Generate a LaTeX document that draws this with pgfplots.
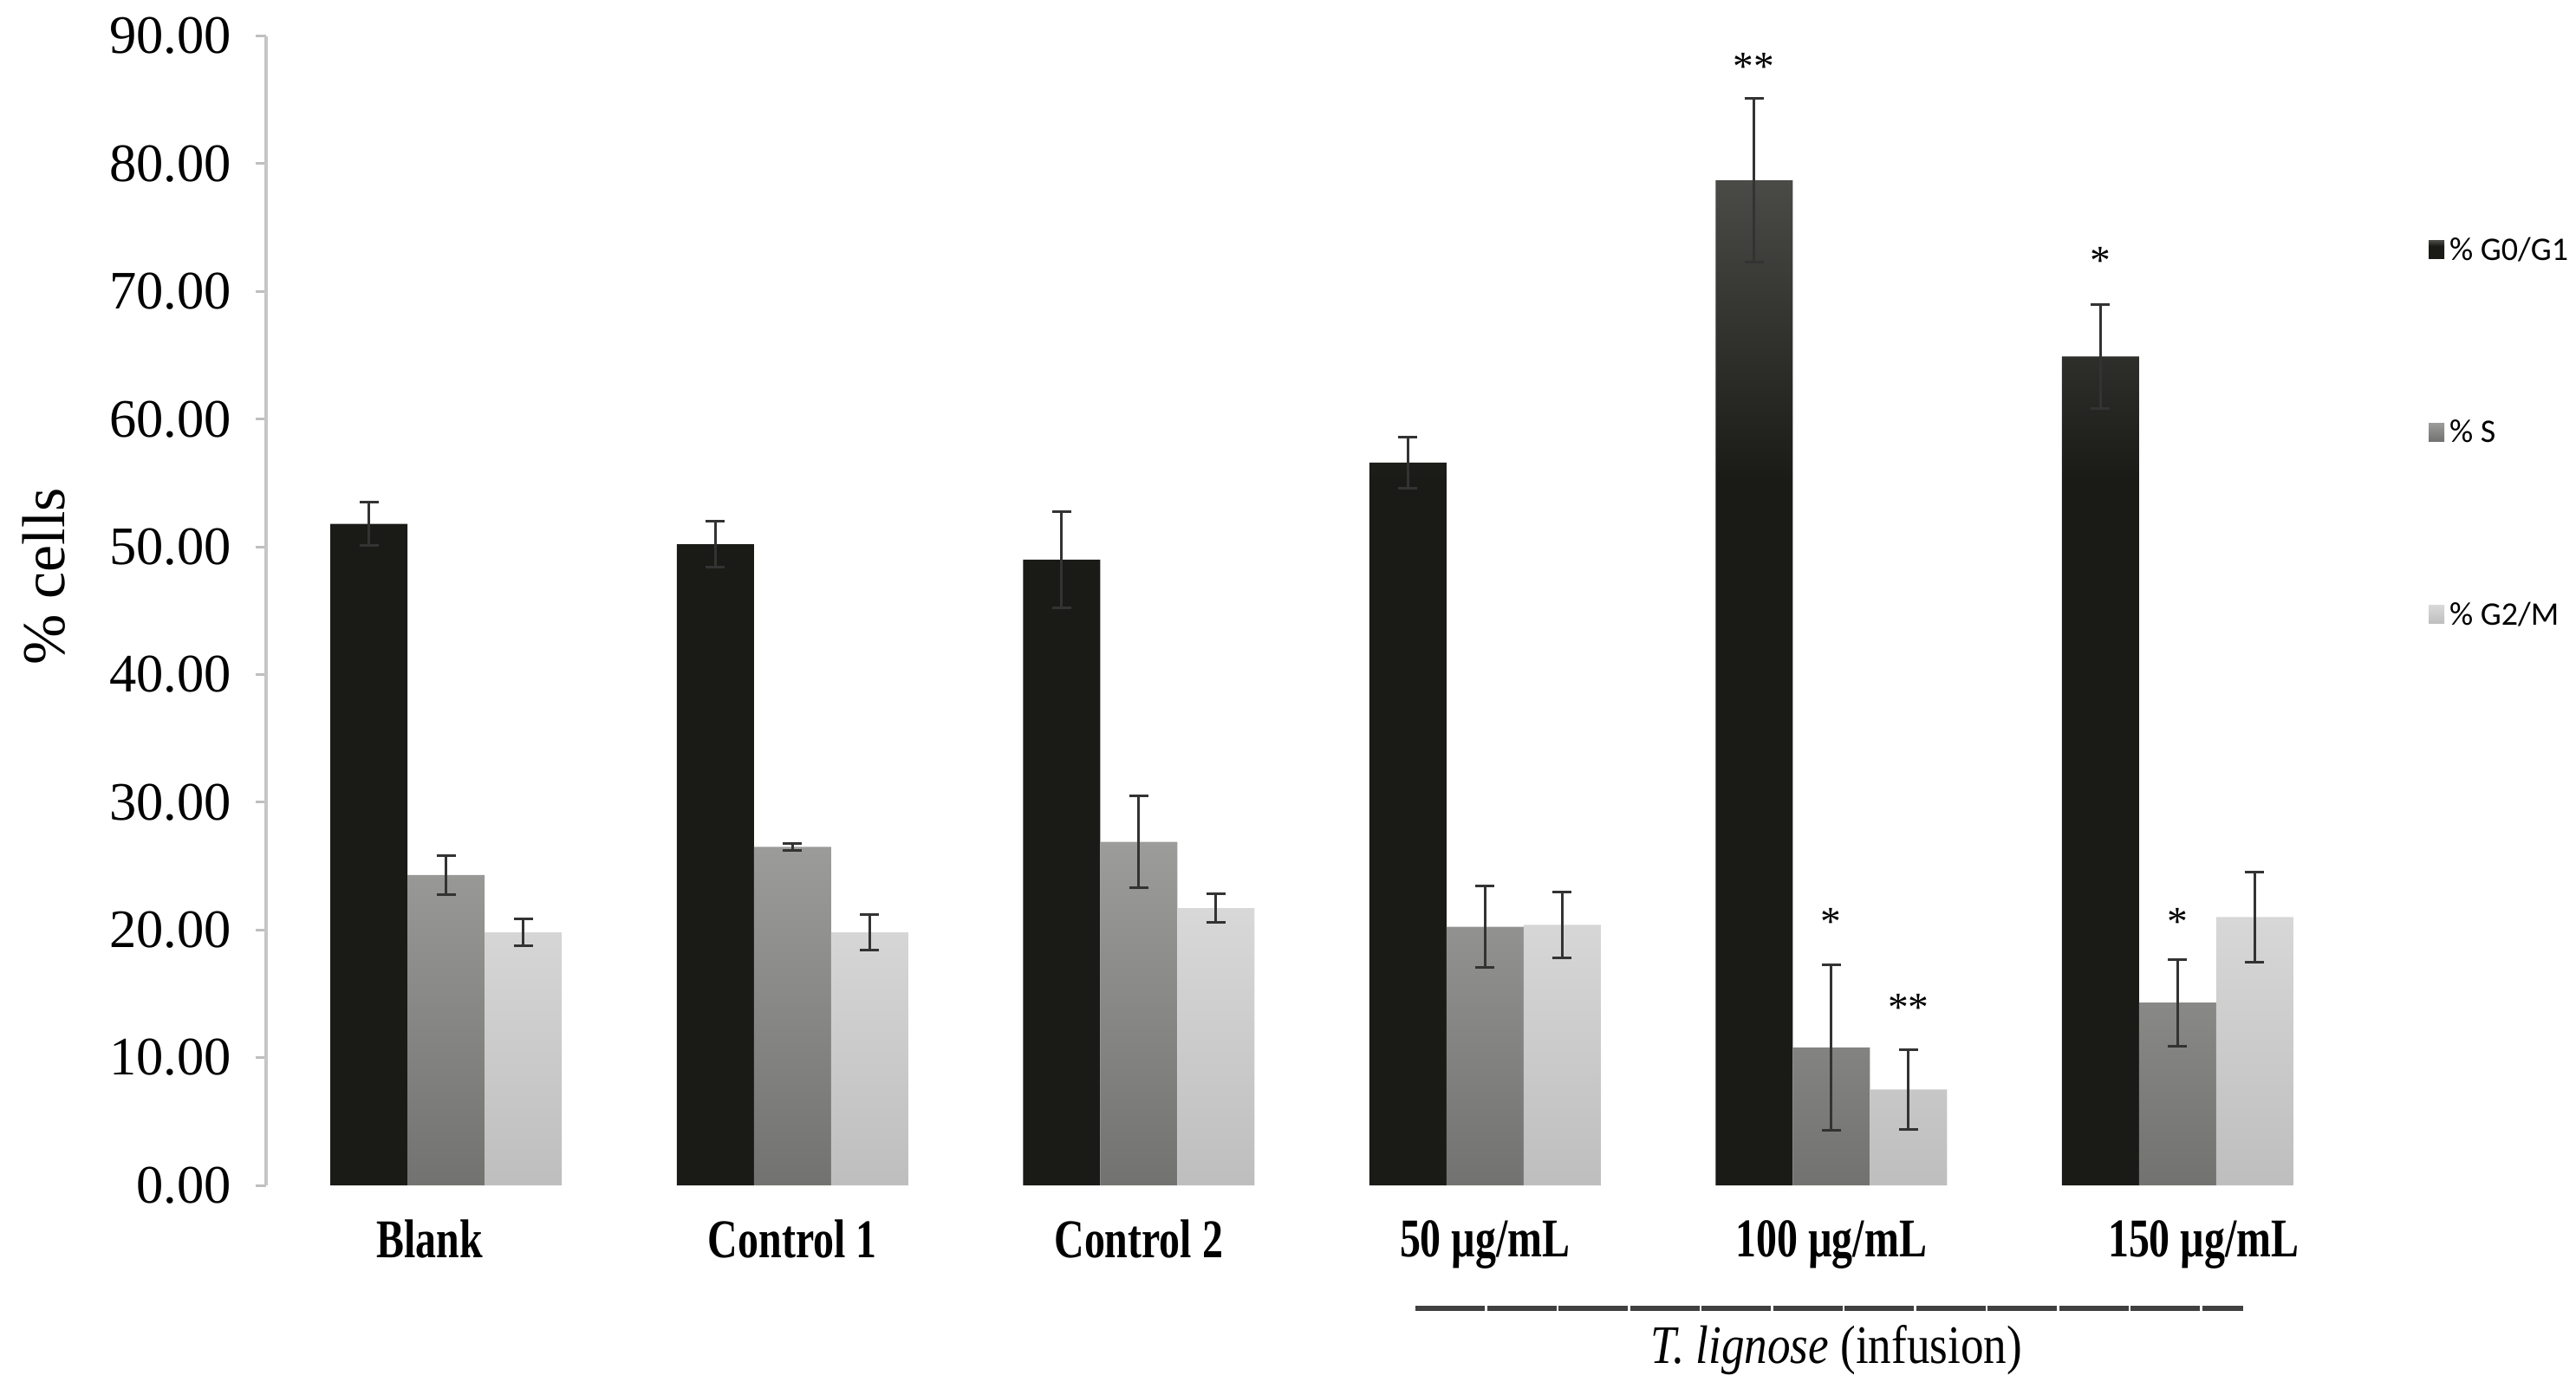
\documentclass[border=0pt]{standalone}
\usepackage{fontspec}
\setmainfont{Liberation Serif}
\newfontfamily\carlito{Carlito}
\usepackage{graphicx}
\usepackage{pgfplots}
\usepackage{pgfplotstable}
\pgfplotsset{compat=1.18}

\definecolor{bartop}{HTML}{4A4A47}
\definecolor{barblack}{HTML}{1A1A16}
\definecolor{stop}{HTML}{9C9C9A}
\definecolor{sbot}{HTML}{727270}
\definecolor{gtop}{HTML}{D8D8D8}
\definecolor{gbot}{HTML}{BEBEBE}
\definecolor{errc}{HTML}{333333}
\pgfdeclareverticalshading{blackbar}{100bp}{color(0bp)=(barblack); color(25bp)=(barblack); color(60bp)=(barblack); color(75bp)=(bartop); color(100bp)=(bartop)}

\pgfplotstableread{
x  g0    g0e  s     se   g2    g2e
0  51.8  1.7  24.3  1.55 19.8  1.05
1  50.2  1.8  26.5  0.3  19.8  1.4
2  49.0  3.75 26.9  3.6  21.7  1.1
3  56.6  2.0  20.25 3.2  20.4  2.6
4  78.7  6.4  10.8  6.5  7.5   3.1
5  64.9  4.1  14.3  3.4  21.0  3.5
}\data

\pgfplotsset{errstyle/.style={forget plot, draw=none, mark=none,
  error bars/.cd, y dir=both, y explicit,
  error bar style={draw=errc, line width=0.6pt},
  error mark options={rotate=90, mark size=2.2pt, draw=errc, line width=0.6pt}}}

\begin{document}
\begin{tikzpicture}
\useasboundingbox (0,0) rectangle (594.4pt,321.8pt);
\begin{axis}[
  at={(61.4pt,48.2pt)}, anchor=south west,
  scale only axis, width=485pt, height=265.3pt,
  xmin=-0.52, xmax=5.55, ymin=0, ymax=90,
  bar width=17.8pt,
  axis lines=left,
  axis line style={-},
  x axis line style={draw=none},
  y axis line style={draw=gray!45, line width=0.8pt},
  xtick={0,1,2,3,4,5},
  xtick style={draw=none},
  xticklabels={
    {\scalebox{0.76}[1]{Blank}\hspace*{7.6pt}},
    {\scalebox{0.76}[1]{Control 1}},
    {\scalebox{0.76}[1]{Control 2}},
    {\scalebox{0.76}[1]{50 µg/mL}},
    {\scalebox{0.76}[1]{100 µg/mL}},
    {\hspace*{12pt}\scalebox{0.76}[1]{150 µg/mL}}},
  xticklabel style={font=\bfseries\fontsize{12.6}{14}\selectfont, yshift=-2pt},
  ytick={0,10,...,90},
  tick align=outside,
  major tick length=2.5pt,
  ytick style={draw=gray!50, line width=0.6pt},
  /pgf/number format/assume math mode=true,
  yticklabel style={/pgf/number format/.cd, fixed, fixed zerofill, precision=2, /tikz/.cd,
    font=\fontsize{12.5}{14}\selectfont, xshift=-2pt},
  ylabel={\% cells},
  every axis y label/.style={at={(axis description cs:-0.1056,0.53)}, rotate=90, anchor=center,
    font=\fontsize{14}{16}\selectfont},
  clip=false,
  legend style={at={(axis description cs:1.0285,0.83)}, anchor=north west, draw=none, fill=none,
    inner sep=0pt, row sep=33pt, font=\carlito\fontsize{7.6}{9}\selectfont,
    nodes={inner sep=1.2pt}},
  legend cell align=left,
]
\addplot[ybar, bar shift=-17.8pt, draw=none, shade, shading=blackbar,
  legend image code/.code={\fill[fill=barblack] (0pt,-1.5pt) rectangle (3.6pt,2.7pt);}]
  table[x=x, y=g0] {\data};
\addlegendentry{\% G0/G1}
\addplot[ybar, bar shift=0pt, draw=none, top color=stop, bottom color=sbot,
  legend image code/.code={\fill[fill=sbot!85!stop] (0pt,-1.5pt) rectangle (3.6pt,2.7pt);}]
  table[x=x, y=s] {\data};
\addlegendentry{\% S}
\addplot[ybar, bar shift=17.8pt, draw=none, top color=gtop, bottom color=gbot,
  legend image code/.code={\fill[fill=gbot!60!gtop] (0pt,-1.5pt) rectangle (3.6pt,2.7pt);}]
  table[x=x, y=g2] {\data};
\addlegendentry{\% G2/M}

% error bars
\addplot[errstyle] table[x expr=\thisrow{x}-0.2228, y=g0, y error=g0e] {\data};
\addplot[errstyle] table[x=x, y=s, y error=se] {\data};
\addplot[errstyle] table[x expr=\thisrow{x}+0.2228, y=g2, y error=g2e] {\data};

% significance marks
\node[font=\fontsize{9.5}{10}\selectfont] at (axis cs:3.777,87.6) {**};
\node[font=\fontsize{9.5}{10}\selectfont] at (axis cs:4,20.6) {*};
\node[font=\fontsize{9.5}{10}\selectfont] at (axis cs:4.2228,13.9) {**};
\node[font=\fontsize{9.5}{10}\selectfont] at (axis cs:4.777,72.4) {*};
\node[font=\fontsize{9.5}{10}\selectfont] at (axis cs:5,20.6) {*};

% group bracket and label
\draw[line width=1.2pt, draw=black!75, dash pattern=on 16pt off 0.5pt] (axis cs:2.8,-9.63) -- (axis cs:5.19,-9.63);
\node[font=\fontsize{12.5}{14}\selectfont] at (axis cs:4.015,-12.9)
  {\scalebox{0.85}[1]{\textit{T. lignose} (infusion)}};
\end{axis}
\end{tikzpicture}
\end{document}
